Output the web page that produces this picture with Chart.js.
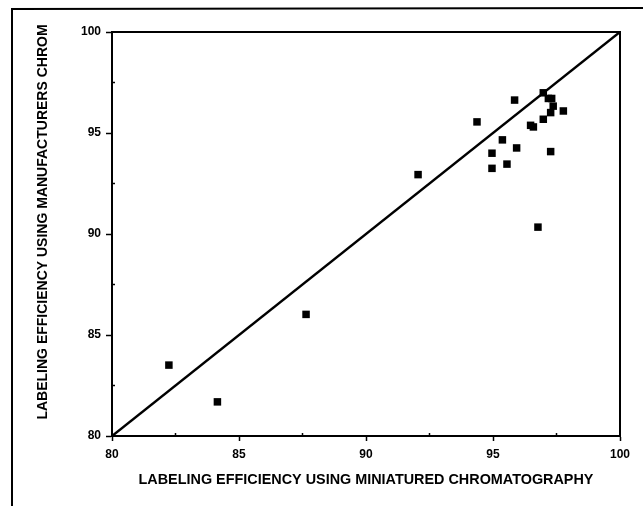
<!DOCTYPE html>
<html><head><meta charset="utf-8">
<script src="https://cdn.jsdelivr.net/npm/chart.js@4/dist/chart.umd.min.js"></script>
<style>html,body{margin:0;padding:0;background:#fff;}#wrap{width:643px;height:506px;position:relative;}</style>
</head><body><div id="wrap"><canvas id="c" width="643" height="506"></canvas></div>
<script>
// Data
const miniX = [82.24, 84.15, 87.64, 92.05, 94.37, 95.85, 96.98, 97.18, 97.31, 97.37, 97.27, 97.77, 96.98, 96.48, 96.59, 95.37, 94.96, 95.93, 97.27, 94.96, 95.55, 96.77];
const manuY = [83.51, 81.69, 86.02, 92.94, 95.55, 96.63, 96.99, 96.71, 96.71, 96.33, 96.01, 96.09, 95.68, 95.38, 95.30, 94.66, 94.00, 94.26, 94.08, 93.25, 93.46, 90.34];
const identityLine = [{x: 80, y: 80}, {x: 100, y: 100}];
const axisMin = 80, axisMax = 100, majorStep = 5, minorStep = 2.5;
const xTitle = 'LABELING EFFICIENCY USING MINIATURED CHROMATOGRAPHY';
const yTitle = 'LABELING EFFICIENCY USING MANUFACTURERS CHROM';

const points = miniX.map((v, i) => ({x: v, y: manuY[i]}));
const FONT = '"Liberation Sans", Arial, sans-serif';

const framePlugin = {
  id: 'frame',
  afterDraw(chart) {
    const ctx = chart.ctx, a = chart.chartArea;
    ctx.save();
    ctx.strokeStyle = '#000';
    // plot box
    ctx.lineWidth = 2;
    ctx.strokeRect(a.left, a.top, a.right - a.left, a.bottom - a.top);
    // minor ticks inside
    ctx.lineWidth = 1.5;
    const xs = chart.scales.x, ys = chart.scales.y;
    for (let v = axisMin + minorStep; v < axisMax; v += majorStep) {
      const px = xs.getPixelForValue(v);
      ctx.beginPath(); ctx.moveTo(px, a.bottom); ctx.lineTo(px, a.bottom - 3); ctx.stroke();
      const py = ys.getPixelForValue(v);
      ctx.beginPath(); ctx.moveTo(a.left, py); ctx.lineTo(a.left + 3, py); ctx.stroke();
    }
    // outer page frame (left + top)
    ctx.lineWidth = 2;
    ctx.beginPath();
    ctx.moveTo(12, 506); ctx.lineTo(12, 9); ctx.lineTo(643, 8);
    ctx.stroke();
    // y-axis title (rotated text)
    ctx.fillStyle = '#000';
    ctx.font = 'bold 14px ' + FONT;
    ctx.textAlign = 'center';
    ctx.textBaseline = 'middle';
    ctx.translate(43, (a.top + a.bottom) / 2 - 12);
    ctx.rotate(-Math.PI / 2);
    ctx.fillText(yTitle, 0, 0);
    ctx.restore();
  }
};

new Chart(document.getElementById('c'), {
  type: 'scatter',
  data: {
    datasets: [
      {
        type: 'line', data: identityLine, borderColor: '#000', borderWidth: 2.5,
        pointRadius: 0, fill: false, tension: 0
      },
      {
        data: points, pointStyle: 'rect', pointRadius: 5.3,
        backgroundColor: '#000', borderColor: '#000', borderWidth: 0
      }
    ]
  },
  options: {
    responsive: false, animation: false,
    layout: {padding: {left: 0, right: 23, top: 32, bottom: 0}},
    plugins: {legend: {display: false}, tooltip: {enabled: false}},
    scales: {
      x: {
        type: 'linear', min: axisMin, max: axisMax,
        ticks: {stepSize: majorStep, color: '#000', padding: 6, font: {family: FONT, size: 12, weight: 'bold'}, maxRotation: 0},
        grid: {display: true, drawOnChartArea: false, tickLength: 5, tickColor: '#000', tickWidth: 1.5},
        border: {display: true, color: '#000', width: 2},
        title: {display: true, text: xTitle, color: '#000', font: {family: FONT, size: 14.4, weight: 'bold'}, padding: {top: 0, bottom: 17}},
        afterFit(s) { s.height = 70; }
      },
      y: {
        type: 'linear', min: axisMin, max: axisMax,
        ticks: {stepSize: majorStep, color: '#000', padding: 5, font: {family: FONT, size: 12, weight: 'bold'}},
        grid: {display: true, drawOnChartArea: false, tickLength: 6, tickColor: '#000', tickWidth: 1.5},
        border: {display: true, color: '#000', width: 2},
        title: {display: false},
        afterFit(s) { s.width = 112; }
      }
    }
  },
  plugins: [framePlugin]
});
</script>
</body></html>
